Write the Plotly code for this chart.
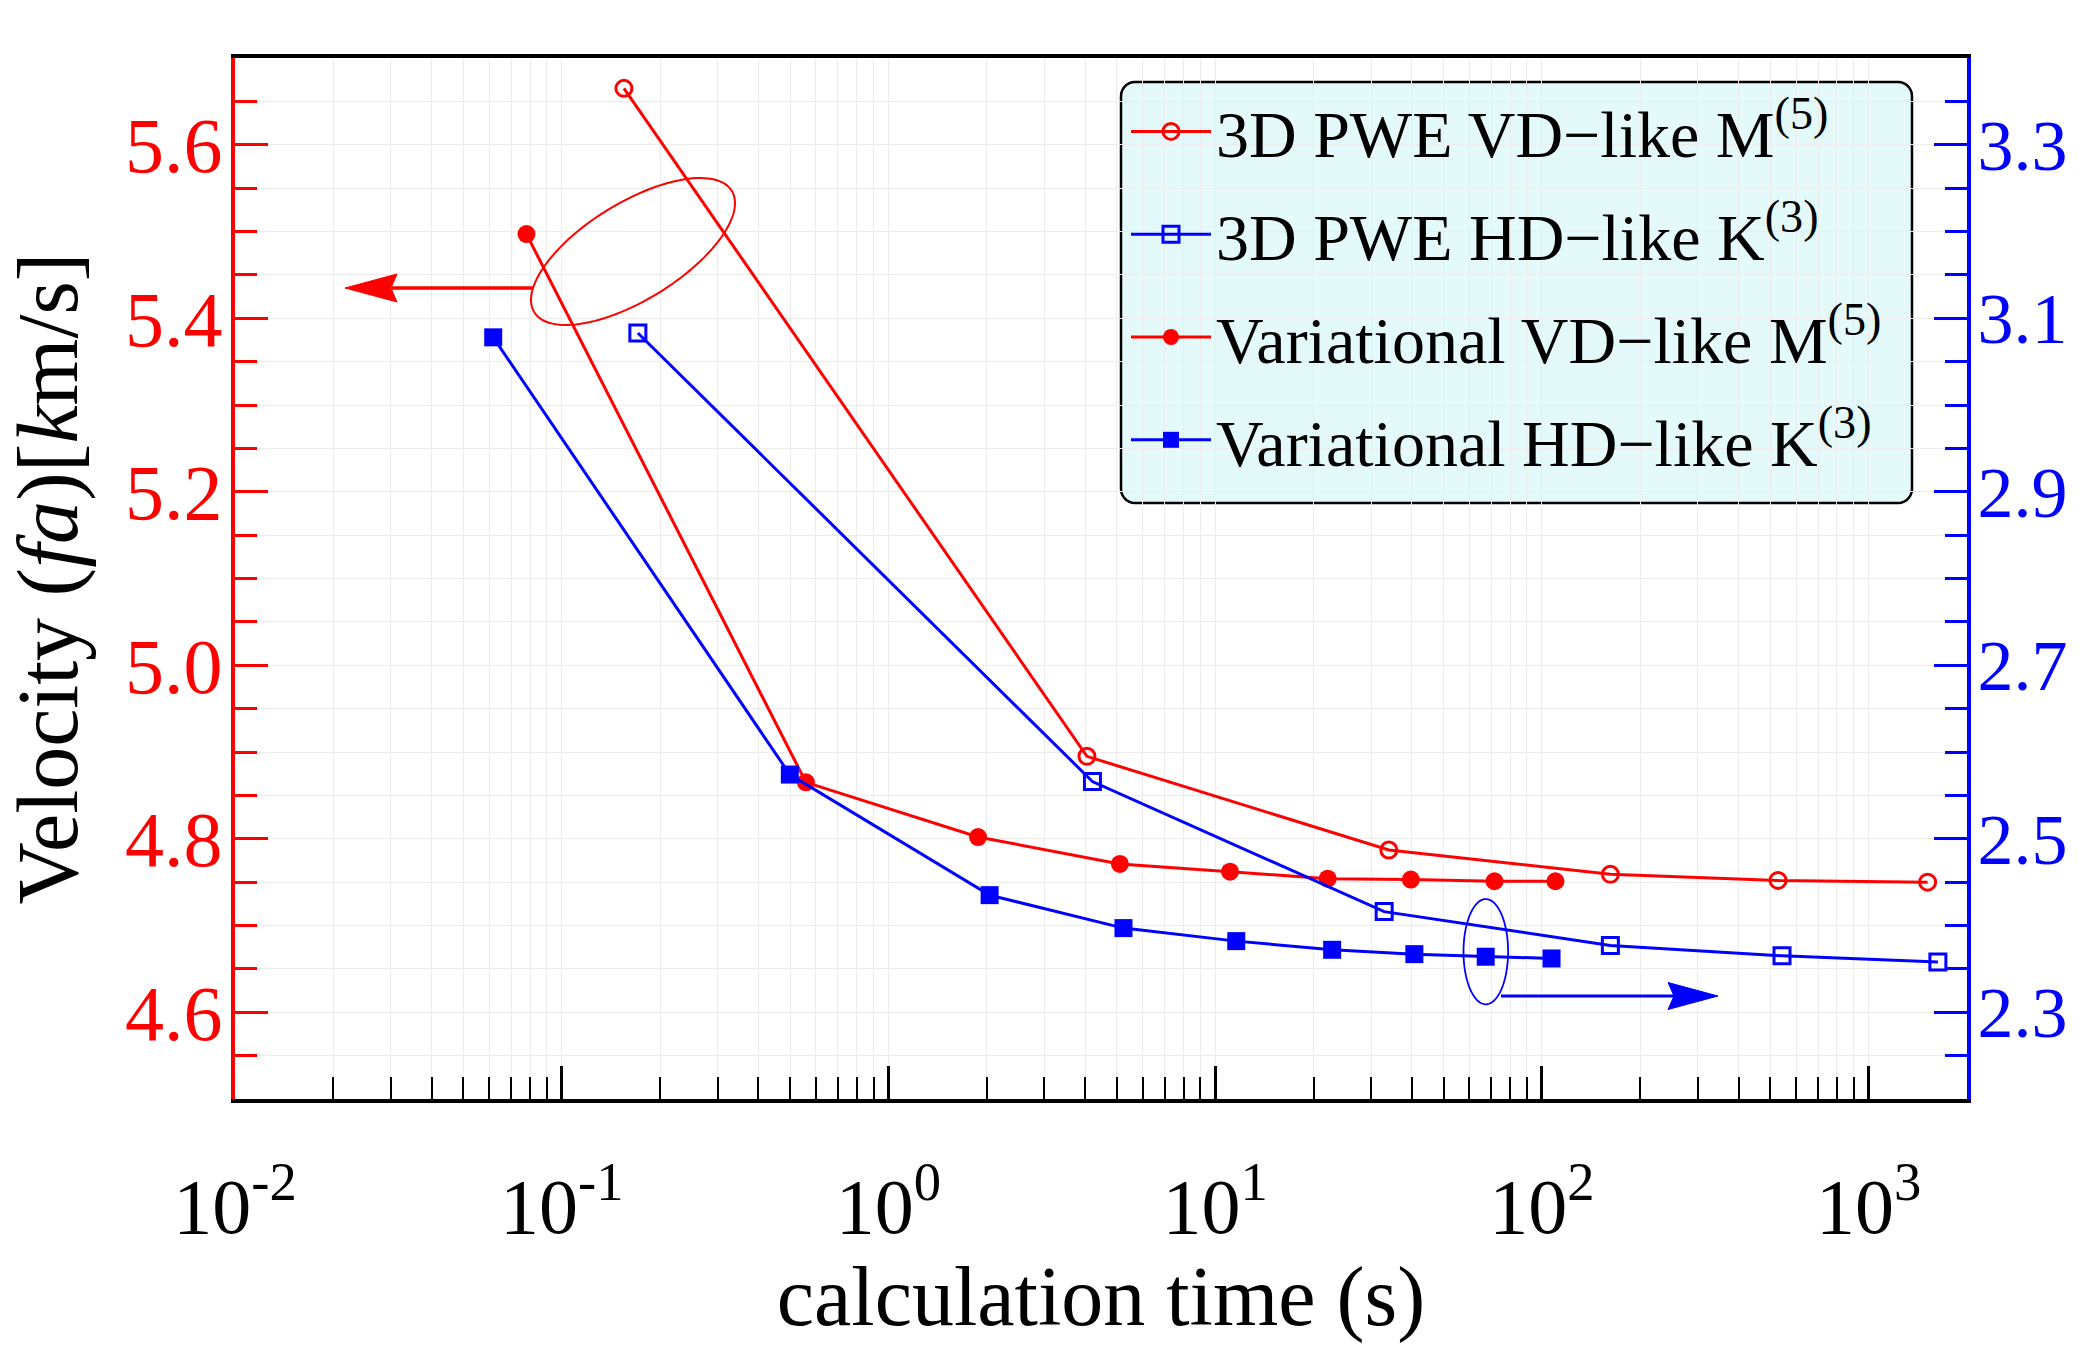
import numpy as np
import plotly.graph_objects as go

# ---------------- data ----------------
pwe_vd_t = [0.155, 4.05, 34.0, 162, 528, 1515]
pwe_vd_v = [5.665, 4.895, 4.787, 4.759, 4.752, 4.750]

pwe_hd_t = [0.171, 4.21, 32.9, 162, 543, 1629]
pwe_hd_v = [3.083, 2.566, 2.416, 2.377, 2.365, 2.358]

var_vd_t = [0.078, 0.559, 1.88, 5.11, 11.1, 22.1, 39.7, 71.6, 110]
var_vd_v = [5.497, 4.865, 4.802, 4.771, 4.762, 4.754, 4.753, 4.751, 4.751]

var_hd_t = [0.0617, 0.499, 2.04, 5.24, 11.6, 22.8, 40.7, 67.3, 107]
var_hd_v = [3.078, 2.574, 2.435, 2.397, 2.382, 2.372, 2.367, 2.364, 2.362]

names = [
    "3D PWE VD\u2212like M<sup>(5)</sup>",
    "3D PWE HD\u2212like K<sup>(3)</sup>",
    "Variational VD\u2212like M<sup>(5)</sup>",
    "Variational HD\u2212like K<sup>(3)</sup>",
]

x_tickvals = [0.01, 0.1, 1, 10, 100, 1000]
x_ticktext = ["10<sup>-2</sup>", "10<sup>-1</sup>", "10<sup>0</sup>",
              "10<sup>1</sup>", "10<sup>2</sup>", "10<sup>3</sup>"]
x_minor = [m * d for d in [0.01, 0.1, 1, 10, 100, 1000] for m in range(2, 10)]

RED = "#ff0000"
BLUE = "#0000ff"
SERIF = "Liberation Serif"
GRID = "#ececec"

# ---------------- figure geometry (pixels) ----------------
W, H = 2084, 1350
PL, PR, PT, PB = 235, 1967, 58, 1099


def pp(x, y):
    """pixel -> paper coordinates"""
    return (x - PL) / (PR - PL), (PB - y) / (PB - PT)


def path_from(points, close=True):
    s = ""
    for i, (x, y) in enumerate(points):
        px, py = pp(x, y)
        s += ("M" if i == 0 else "L") + f"{px:.5f},{py:.5f} "
    return s + ("Z" if close else "")


fig = go.Figure()

fig.add_trace(go.Scatter(
    x=pwe_vd_t, y=pwe_vd_v, name=names[0], mode="lines+markers",
    line=dict(color=RED, width=3),
    marker=dict(symbol="circle-open", size=16, color=RED, line=dict(width=3, color=RED)),
    yaxis="y", legendgroup="a"))
fig.add_trace(go.Scatter(
    x=pwe_hd_t, y=pwe_hd_v, name=names[1], mode="lines+markers",
    line=dict(color=BLUE, width=3),
    marker=dict(symbol="square-open", size=16, color=BLUE, line=dict(width=3, color=BLUE)),
    yaxis="y2", legendgroup="b"))
fig.add_trace(go.Scatter(
    x=var_vd_t, y=var_vd_v, name=names[2], mode="lines+markers",
    line=dict(color=RED, width=3),
    marker=dict(symbol="circle", size=18, color=RED),
    yaxis="y", legendgroup="c"))
fig.add_trace(go.Scatter(
    x=var_hd_t, y=var_hd_v, name=names[3], mode="lines+markers",
    line=dict(color=BLUE, width=3),
    marker=dict(symbol="square", size=18, color=BLUE),
    yaxis="y2", legendgroup="d"))

# ---------------- shapes: legend box, ellipses, arrows ----------------
shapes = []

# rounded legend box
bx0, by0, bx1, by1, r = 1121, 82, 1912, 503, 14
rb = []
for cx, cy, a0 in [(bx1 - r, by0 + r, -90), (bx1 - r, by1 - r, 0),
                   (bx0 + r, by1 - r, 90), (bx0 + r, by0 + r, 180)]:
    for a in np.linspace(a0, a0 + 90, 8):
        rb.append((cx + r * np.cos(np.radians(a)), cy + r * np.sin(np.radians(a))))
shapes.append(dict(type="path", xref="paper", yref="paper", layer="below",
                   path=path_from(rb), fillcolor="#e4fafa",
                   line=dict(color="black", width=2.5)))

# red tilted ellipse
t = np.linspace(0, 2 * np.pi, 120)
ex = 633 + 102 * np.cos(t)
ey = 251.5 - 48.4 * np.cos(t) + 55.3 * np.sin(t)
shapes.append(dict(type="path", xref="paper", yref="paper", layer="above",
                   path=path_from(list(zip(ex, ey))),
                   line=dict(color=RED, width=2)))

# blue ellipse
bxe = 1485.8 + 22.3 * np.cos(t)
bye = 951.7 + 52.6 * np.sin(t)
shapes.append(dict(type="path", xref="paper", yref="paper", layer="above",
                   path=path_from(list(zip(bxe, bye))),
                   line=dict(color=BLUE, width=1.8)))

# red arrow (pointing left)
shapes.append(dict(type="path", xref="paper", yref="paper", layer="above",
                   path=path_from([(533, 288), (392, 288)], close=False),
                   line=dict(color=RED, width=3.5)))
shapes.append(dict(type="path", xref="paper", yref="paper", layer="above",
                   path=path_from([(345, 288), (397, 274), (391, 288), (397, 302)]),
                   fillcolor=RED, line=dict(color=RED, width=1)))

# blue arrow (pointing right)
shapes.append(dict(type="path", xref="paper", yref="paper", layer="above",
                   path=path_from([(1501, 996), (1676, 996)], close=False),
                   line=dict(color=BLUE, width=3)))
shapes.append(dict(type="path", xref="paper", yref="paper", layer="above",
                   path=path_from([(1718, 996), (1668, 982.5), (1674, 996), (1668, 1009.5)]),
                   fillcolor=BLUE, line=dict(color=BLUE, width=1)))

fig.update_layout(
    width=W, height=H,
    margin=dict(l=PL, r=W - PR, t=PT, b=H - PB, pad=0, autoexpand=False),
    paper_bgcolor="white", plot_bgcolor="rgba(0,0,0,0)",
    font=dict(family=SERIF, color="black"),
    shapes=shapes,
    showlegend=True,
    legend=dict(
        x=pp(1126, 0)[0], y=pp(0, 82)[1], xanchor="left", yanchor="top",
        bgcolor="rgba(0,0,0,0)", borderwidth=0,
        font=dict(family=SERIF, size=66),
        itemwidth=80, tracegroupgap=14,
        traceorder="grouped",
    ),
    xaxis=dict(
        type="log", range=[-2, np.log10(2000)], automargin=False,
        tickmode="array", tickvals=x_tickvals, ticktext=x_ticktext,
        ticks="inside", ticklen=33, tickwidth=2.5, tickcolor="black",
        tickfont=dict(family=SERIF, size=78, color="black"),
        ticklabelstandoff=36,
        showline=True, linecolor="black", linewidth=4, mirror=True,
        showgrid=True, gridcolor=GRID, gridwidth=1, zeroline=False,
        minor=dict(tickmode="array", tickvals=x_minor, ticks="inside", ticklen=22,
                   tickwidth=2, tickcolor="black", showgrid=True,
                   gridcolor=GRID, gridwidth=1),
        title=dict(text="calculation time (s)", font=dict(family=SERIF, size=84, color="black"),
                   standoff=7),
    ),
    yaxis=dict(
        range=[4.5, 5.7], tickmode="linear", tick0=4.6, dtick=0.2, tickformat=".1f",
        automargin=False,
        ticks="inside", ticklen=33, tickwidth=3, tickcolor=RED,
        tickfont=dict(family=SERIF, size=78, color=RED),
        ticklabelstandoff=-7,
        showline=True, linecolor=RED, linewidth=4,
        showgrid=True, gridcolor=GRID, gridwidth=1, zeroline=False,
        minor=dict(tick0=4.5, dtick=0.05, ticks="inside", ticklen=22, tickwidth=3,
                   tickcolor=RED, showgrid=True, gridcolor=GRID, gridwidth=1),
        title=dict(text="Velocity (<i>fa</i>)[<i>k</i>m/s]",
                   font=dict(family=SERIF, size=86, color="black"), standoff=32),
    ),
    yaxis2=dict(
        overlaying="y", side="right", anchor="x", automargin=False,
        range=[2.2, 3.4], tickmode="linear", tick0=2.3, dtick=0.2, tickformat=".1f",
        ticks="inside", ticklen=33, tickwidth=3, tickcolor=BLUE,
        tickfont=dict(family=SERIF, size=72, color=BLUE),
        ticklabelstandoff=-8,
        showline=True, linecolor=BLUE, linewidth=4,
        showgrid=False, zeroline=False,
        minor=dict(tick0=2.2, dtick=0.05, ticks="inside", ticklen=22, tickwidth=3,
                   tickcolor=BLUE, showgrid=False),
    ),
)

fig.write_html("out.html")
